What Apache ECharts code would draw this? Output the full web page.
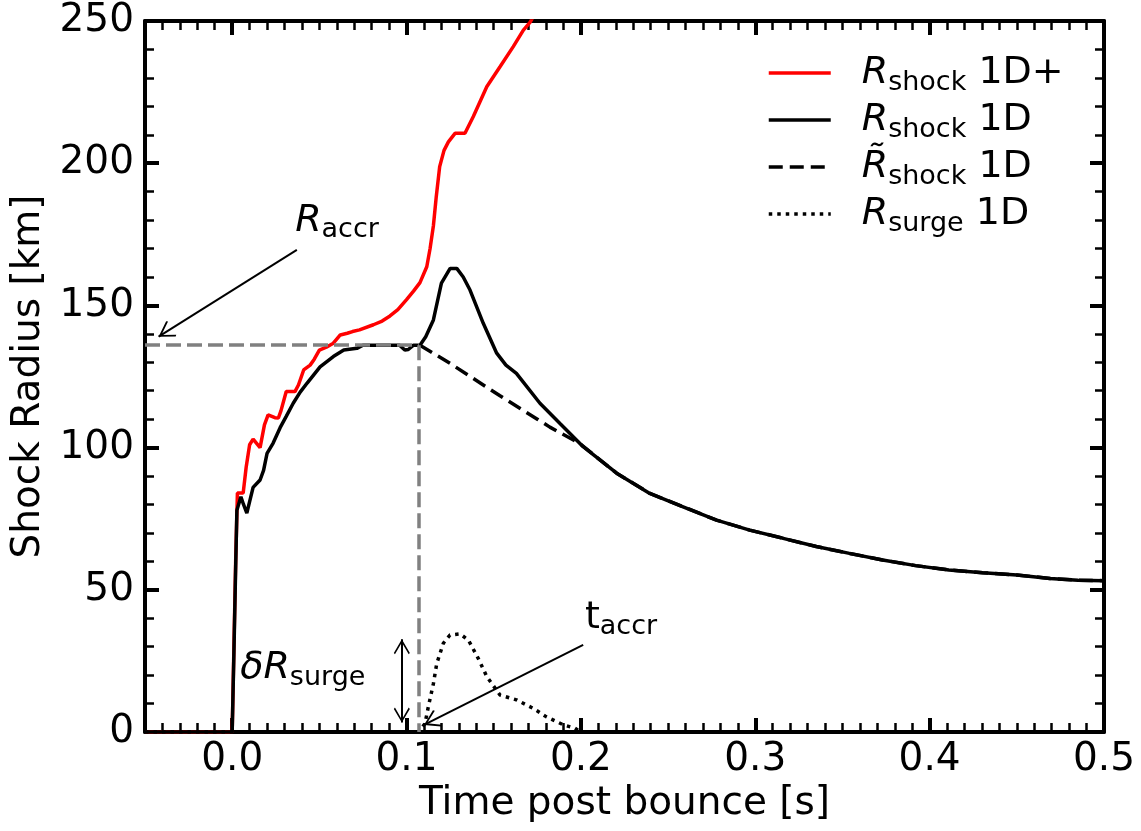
<!DOCTYPE html>
<html><head><meta charset="utf-8">
<script src="https://cdn.jsdelivr.net/npm/echarts@6/dist/echarts.min.js"></script>
<style>html,body{margin:0;padding:0;background:#fff}#c{width:1141px;height:831px}</style>
</head><body><div id="c"></div>
<script>
// ---- data ----
const timePlus = [-0.05, 0, 0.001, 0.002, 0.003, 0.0063, 0.008, 0.010, 0.012, 0.014, 0.016, 0.0185, 0.0206, 0.0245, 0.0265, 0.028, 0.031, 0.036, 0.038, 0.041, 0.0447, 0.047, 0.050, 0.054, 0.058, 0.062, 0.066, 0.069, 0.073, 0.081, 0.086, 0.0905, 0.095, 0.100, 0.104, 0.1077, 0.1116, 0.1135, 0.1154, 0.117, 0.119, 0.1215, 0.124, 0.1278, 0.1335, 0.1383, 0.146, 0.1536, 0.1612, 0.167, 0.1708, 0.175];
const radiusPlus = [0, 0, 30, 60, 84, 84, 93, 101, 103, 101.5, 100, 108, 111.5, 110.5, 110.4, 113, 119.7, 119.7, 122, 127.3, 129, 131, 134.3, 135.3, 136.7, 139.6, 140.2, 140.8, 141.4, 143.2, 144.5, 146.3, 148.5, 152, 155, 158, 163.6, 170, 178, 188, 198.8, 204.5, 207.5, 210.5, 210.5, 216.4, 226.9, 233.9, 241, 246.8, 249.5, 254];

const time1D = [-0.05, 0, 0.001, 0.002, 0.0027, 0.005, 0.0065, 0.0084, 0.010, 0.012, 0.016, 0.018, 0.020, 0.0235, 0.0275, 0.031, 0.035, 0.039, 0.043, 0.0504, 0.058, 0.064, 0.0715, 0.075, 0.096, 0.099, 0.101, 0.104, 0.1077, 0.111, 0.1154, 0.120, 0.125, 0.1288, 0.1325, 0.1364, 0.144, 0.1517, 0.157, 0.163, 0.1765, 0.188, 0.2013, 0.2205, 0.2395, 0.2586, 0.2778, 0.2968, 0.316, 0.335, 0.354, 0.373, 0.392, 0.411, 0.4305, 0.45, 0.469, 0.485, 0.5];
const radius1D = [0, 0, 28, 58, 78, 82.7, 80, 77, 81, 86, 88.6, 92, 98, 101.6, 107, 111, 115.6, 119.5, 122.7, 128.4, 132, 134.3, 134.9, 136, 136, 134.3, 134.5, 136, 136, 139, 144.9, 157.8, 163, 163, 160, 155.4, 143.7, 133.2, 129, 126.1, 115.6, 108.5, 100.3, 91, 83.9, 79.2, 74.5, 71, 68.1, 65.2, 62.8, 60.5, 58.5, 57, 56, 55.2, 54, 53.4, 53.2];

const timeTilde = [0.1077, 0.125, 0.1536, 0.175, 0.1822, 0.1994, 0.2205, 0.2395, 0.2586, 0.2778, 0.2968, 0.316, 0.335, 0.354, 0.373, 0.392, 0.411, 0.4305, 0.45, 0.469, 0.485, 0.5];
const radiusTilde = [136, 129.6, 118.2, 110, 107.2, 101.4, 91, 83.9, 79.2, 74.5, 71, 68.1, 65.2, 62.8, 60.5, 58.5, 57, 56, 55.2, 54, 53.4, 53.2];

const timeSurge = [-0.05, 0.107, 0.1106, 0.1125, 0.1154, 0.1173, 0.1211, 0.1249, 0.1307, 0.1355, 0.1411, 0.146, 0.1536, 0.163, 0.1727, 0.180, 0.19, 0.1966, 0.2, 0.5];
const radiusSurge = [0, 0, 3, 8.9, 17, 24, 31.2, 34.1, 34.5, 32.3, 25.9, 19.5, 13, 11.3, 8.3, 5.4, 2.5, 1.3, 0, 0];

const seriesNames = ['R_shock 1D+', 'R_shock 1D', 'Rtilde_shock 1D', 'R_surge 1D'];
const xTickValues = [0, 0.1, 0.2, 0.3, 0.4, 0.5];
const xTickLabels = ['0.0', '0.1', '0.2', '0.3', '0.4', '0.5'];
const yTickValues = [0, 50, 100, 150, 200, 250];
const yTickLabels = ['0', '50', '100', '150', '200', '250'];

// annotation values
const tAccr = 0.107, rAccr = 136;
const rAccrArrow = [[0.0371, 169.5], [-0.0422, 139]];
const tAccrArrow = [[0.2013, 30.6], [0.110, 2.5]];
const dRArrow = [[0.0973, 32.6], [0.0973, 3.3]];
const rAccrLabelAt = [0.0361, 179.7];
const tAccrLabelAt = [0.2023, 40.1];
const dRLabelAt = [0.0046, 22.5];

// ---- chart ----
const X_MIN = -0.05, X_MAX = 0.5;
const xMinorTicks = [];
for (let i = -5; i <= 50; i++) xMinorTicks.push(+(i * 0.01).toFixed(2));
const pairs = (ts, rs) => ts.map((t, i) => [t, rs[i]]);
const FONT = 'DejaVu Sans';
const FS = 39, LFS = 38, SUB = 27;
const rich = {
  i: {fontFamily: FONT, fontStyle: 'italic', fontSize: LFS, lineHeight: 42, color: '#000'},
  n: {fontFamily: FONT, fontSize: LFS, lineHeight: 42, color: '#000'},
  s: {fontFamily: FONT, fontSize: SUB, lineHeight: 25, padding: [19, 0, 0, 0], color: '#000'}
};
const legendRich = Object.assign({}, rich, {
  i0: Object.assign({}, rich.i, {padding: [0, 0, 0, 26]})
});
const legendText = {
  'R_shock 1D+': '{i0|R}{s|shock}{n| 1D+}',
  'R_shock 1D': '{i0|R}{s|shock}{n| 1D}',
  'Rtilde_shock 1D': '{i0|R\u0303}{s|shock}{n| 1D}',
  'R_surge 1D': '{i0|R}{s|surge}{n| 1D}'
};
const chevron = 'path://M50,0 L50.5,0 L50,0.5 Z M50,66 L100,126 L93,132 L50,80 L7,132 L0,126 Z';
const arrowLine = {color: '#000', width: 2, type: 'solid'};
const grayDash = {color: '#808080', width: 3.5, type: [15, 6]};

function xAxisDef(pos, major, showLabel) {
  return {
    type: 'value', min: X_MIN, max: X_MAX, position: pos,
    axisLine: {show: major, onZero: false, lineStyle: {color: '#000', width: 4}},
    axisTick: {show: true, inside: true, length: major ? 14 : 9,
      lineStyle: {color: '#000', width: major ? 4 : 2.5},
      customValues: major ? xTickValues : xMinorTicks},
    axisLabel: showLabel ? {show: true, customValues: xTickValues, margin: 8,
      formatter: v => xTickLabels[xTickValues.findIndex(x => Math.abs(x - v) < 1e-6)] ?? '',
      fontFamily: FONT, fontSize: FS, color: '#000'} : {show: false},
    splitLine: {show: false},
    name: showLabel ? 'Time post bounce [s]' : '',
    nameLocation: 'middle', nameGap: 52,
    nameTextStyle: {fontFamily: FONT, fontSize: FS, color: '#000'}
  };
}
function yAxisDef(pos, showLabel) {
  return {
    type: 'value', min: 0, max: 250, interval: 50, position: pos,
    axisLine: {show: true, onZero: false, lineStyle: {color: '#000', width: 4}},
    axisTick: {show: true, inside: true, length: 14, lineStyle: {color: '#000', width: 4}},
    minorTick: {show: true, splitNumber: 5, length: 9, lineStyle: {color: '#000', width: 2.5}},
    axisLabel: showLabel ? {show: true, margin: 11,
      formatter: v => yTickLabels[yTickValues.indexOf(v)] ?? '',
      fontFamily: FONT, fontSize: FS, color: '#000'} : {show: false},
    splitLine: {show: false}, minorSplitLine: {show: false},
    name: showLabel ? 'Shock Radius [km]' : '',
    nameLocation: 'middle', nameGap: 91, nameRotate: 90,
    nameTextStyle: {fontFamily: FONT, fontSize: FS, color: '#000'}
  };
}

const chart = echarts.init(document.getElementById('c'), null, {renderer: 'canvas'});
chart.setOption({
  animation: false,
  backgroundColor: '#fff',
  grid: {left: 145, right: 37, top: 21, bottom: 99, containLabel: false},
  xAxis: [xAxisDef('bottom', true, true), xAxisDef('bottom', false, false),
          xAxisDef('top', true, false), xAxisDef('top', false, false)],
  yAxis: [yAxisDef('left', true), yAxisDef('right', false)],
  legend: {
    orient: 'vertical', left: 767, top: 50, padding: 0, itemGap: 1,
    itemWidth: 62, itemHeight: 14, data: seriesNames,
    formatter: name => legendText[name],
    itemStyle: {opacity: 0},
    lineStyle: {width: 3.5},
    textStyle: {rich: legendRich}
  },
  series: [
    {name: seriesNames[0], type: 'line', data: pairs(timePlus, radiusPlus), symbol: 'none',
     lineStyle: {color: '#ff0000', width: 3.5}, itemStyle: {color: '#ff0000'}, z: 2},
    {name: seriesNames[1], type: 'line', data: pairs(time1D, radius1D), symbol: 'none',
     lineStyle: {color: '#000', width: 3.5}, itemStyle: {color: '#000'}, z: 3},
    {name: seriesNames[2], type: 'line', data: pairs(timeTilde, radiusTilde), symbol: 'none',
     lineStyle: {color: '#000', width: 3.5, type: [14, 7]}, itemStyle: {color: '#000'}, z: 3},
    {name: seriesNames[3], type: 'line', data: pairs(timeSurge, radiusSurge), symbol: 'none',
     lineStyle: {color: '#000', width: 3.5, type: [3.5, 5]}, itemStyle: {color: '#000'}, z: 3,
     markLine: {
       silent: true, animation: false, symbol: ['none', 'none'], label: {show: false},
       emphasis: {disabled: true},
       data: [
         [{coord: [X_MIN, rAccr], lineStyle: grayDash}, {coord: [tAccr, rAccr]}],
         [{coord: [tAccr, rAccr], lineStyle: grayDash}, {coord: [tAccr, 0]}],
         [{coord: rAccrArrow[0], lineStyle: arrowLine, symbol: 'none'},
          {coord: rAccrArrow[1], symbol: chevron, symbolSize: [18, 32], itemStyle: {color: '#000'}}],
         [{coord: tAccrArrow[0], lineStyle: arrowLine, symbol: 'none'},
          {coord: tAccrArrow[1], symbol: chevron, symbolSize: [18, 32], itemStyle: {color: '#000'}}],
         [{coord: dRArrow[0], lineStyle: arrowLine, symbol: chevron, symbolSize: [16, 30], itemStyle: {color: '#000'}},
          {coord: dRArrow[1], symbol: chevron, symbolSize: [16, 30], itemStyle: {color: '#000'}}]
       ]
     },
     markPoint: {
       silent: true, animation: false, symbol: 'circle', symbolSize: 0,
       itemStyle: {color: 'transparent'},
       label: {show: true, position: [0, 0], align: 'left', verticalAlign: 'middle', rich: rich},
       data: [
         {coord: rAccrLabelAt, label: {formatter: '{i|R}{s|accr}'}},
         {coord: tAccrLabelAt, label: {formatter: '{n|t}{s|accr}'}},
         {coord: dRLabelAt, label: {formatter: '{i|\u03b4R}{s|surge}'}}
       ]
     }}
  ]
});
</script>
</body></html>
